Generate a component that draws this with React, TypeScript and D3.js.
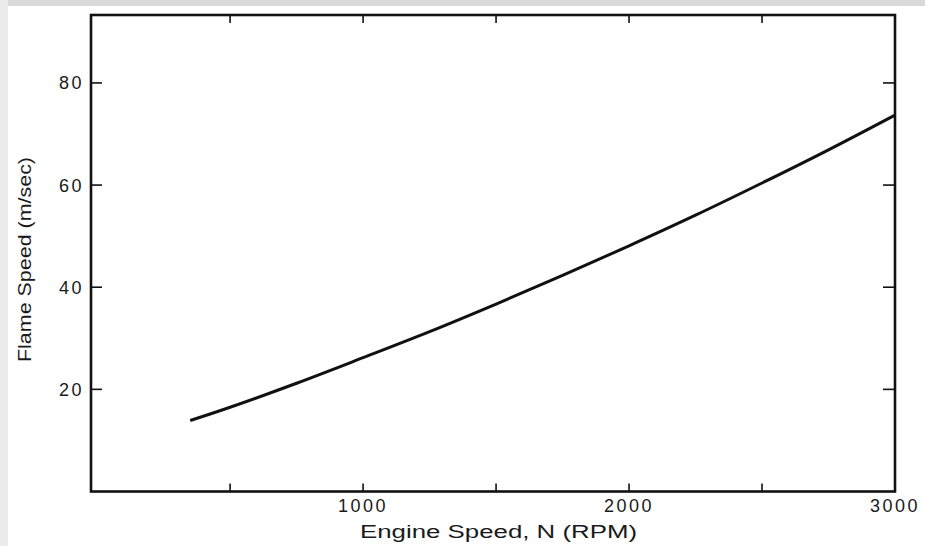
import React from "react";
import * as d3 from "d3";

const rpm = [350, 500, 750, 1000, 1250, 1500, 1750, 2000, 2250, 2500, 2750, 3000];
const flameSpeed = [13.9, 16.5, 21.2, 26.2, 31.3, 36.7, 42.3, 48.1, 54.1, 60.4, 66.9, 73.7];
const xTicks = [500, 1000, 1500, 2000, 2500];
const xTickLabels = [1000, 2000, 3000];
const yTicks = [20, 40, 60, 80];
const xTitle = "Engine Speed, N (RPM)";
const yTitle = "Flame Speed (m/sec)";

const W = 925;
const H = 546;

export default function App() {
  const x = d3.scaleLinear().domain([-23, 3000]).range([91, 895]);
  const y = d3.scaleLinear().domain([0, 93.3]).range([491.5, 15]);
  const data = rpm.map((r, i) => [r, flameSpeed[i]] as [number, number]);
  const line = d3
    .line<[number, number]>()
    .x((d) => x(d[0]))
    .y((d) => y(d[1]))
    .curve(d3.curveCatmullRom.alpha(0.5));

  const left = x(-23);
  const right = x(3000);
  const top = y(93.3);
  const bottom = y(0);
  const font = "'Liberation Sans', Arial, sans-serif";

  return (
    <svg
      width={W}
      height={H}
      style={{ position: "absolute", left: 0, top: 0, background: "#fff" }}
    >
      <rect x={0} y={0} width={W} height={H} fill="#fff" />
      <rect x={0} y={0} width={W} height={6} fill="#d9d9d9" />
      <rect x={0} y={0} width={8} height={H} fill="#ececec" />
      {/* frame */}
      <rect
        x={left}
        y={top}
        width={right - left}
        height={bottom - top}
        fill="none"
        stroke="#111"
        strokeWidth={2.6}
      />
      {/* x ticks bottom and top */}
      {xTicks.map((t) => (
        <g key={"xt" + t} stroke="#111" strokeWidth={1.6}>
          <line x1={x(t)} x2={x(t)} y1={bottom} y2={bottom - 8} />
          <line x1={x(t)} x2={x(t)} y1={top} y2={top + 8} />
        </g>
      ))}
      {/* y ticks left and right */}
      {yTicks.map((t) => (
        <g key={"yt" + t} stroke="#111" strokeWidth={1.6}>
          <line x1={left} x2={left + 11} y1={y(t)} y2={y(t)} />
          <line x1={right} x2={right - 12} y1={y(t)} y2={y(t)} />
        </g>
      ))}
      {/* x tick labels */}
      {xTickLabels.map((t) => (
        <text
          key={"xl" + t}
          x={x(t)}
          y={512}
          textAnchor="middle"
          fontFamily={font}
          fontSize={18}
          letterSpacing={2.5}
          fill="#1a1a1a"
        >
          {t}
        </text>
      ))}
      {/* y tick labels */}
      {yTicks.map((t) => (
        <text
          key={"yl" + t}
          x={84}
          y={y(t) + 6.5}
          textAnchor="end"
          fontFamily={font}
          fontSize={18}
          letterSpacing={2.5}
          fill="#1a1a1a"
        >
          {t}
        </text>
      ))}
      {/* curve */}
      <path d={line(data) || ""} fill="none" stroke="#111" strokeWidth={3} />
      {/* axis titles */}
      <text
        x={360}
        y={538}
        fontFamily={font}
        fontSize={18}
        textLength={277}
        lengthAdjust="spacingAndGlyphs"
        fill="#1a1a1a"
      >
        {xTitle}
      </text>
      <text
        transform={`translate(31, 362) rotate(-90)`}
        x={0}
        y={0}
        fontFamily={font}
        fontSize={18}
        textLength={205}
        lengthAdjust="spacingAndGlyphs"
        fill="#1a1a1a"
      >
        {yTitle}
      </text>
    </svg>
  );
}
